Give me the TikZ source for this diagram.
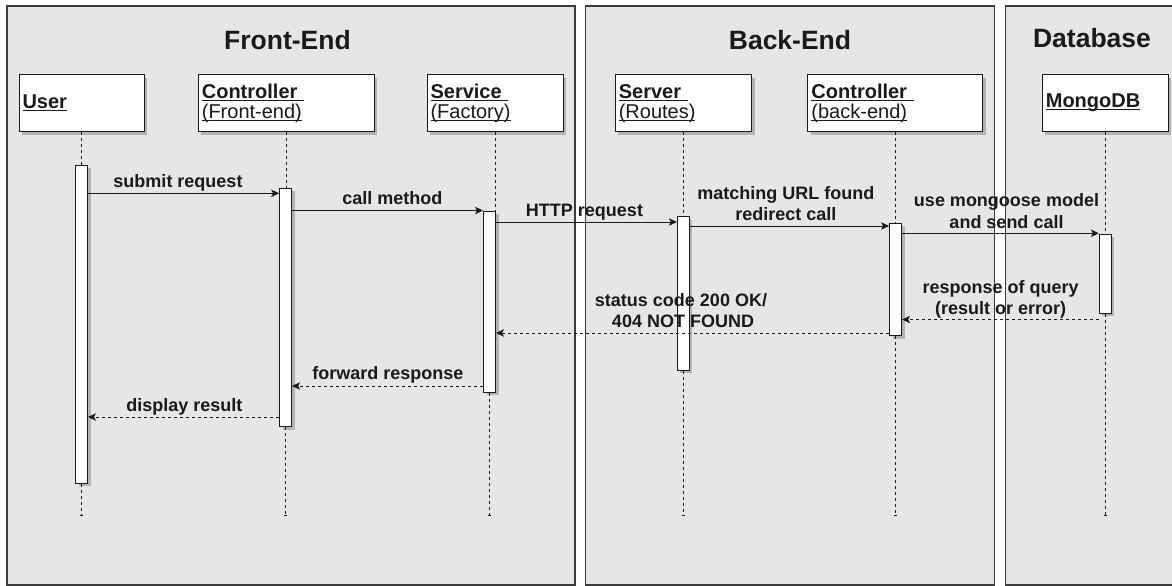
\documentclass[tikz,border=0pt]{standalone}
\usepackage{fontspec}
\setmainfont{Liberation Sans}
\usetikzlibrary{arrows.meta,shadows}

\definecolor{lanefill}{HTML}{E6E6E6}
\definecolor{laneedge}{HTML}{3C3C3C}
\definecolor{ink}{HTML}{1A1A1A}

% underline at a fixed distance below the baseline, trailing space included
\newcommand{\ulbox}[1]{\leavevmode\setbox0=\hbox{#1}\rlap{\rule[-2.4pt]{\wd0}{0.9pt}}\box0}

\begin{document}
\begin{tikzpicture}[x=1pt,y=-1pt,
  lane/.style={draw=laneedge, fill=lanefill, line width=1.2pt, inner sep=0pt},
  lanetitle/.style={font=\fontsize{26.5}{30}\selectfont\bfseries, text=ink, anchor=base, inner sep=0pt},
  shade/.style={drop shadow={shadow xshift=3pt, shadow yshift=-3pt, fill=black, opacity=0.22}},
  actor/.style={shade, draw=ink, fill=white, line width=1pt, minimum height=56.8pt,
    inner xsep=3.5pt, inner ysep=0pt, align=left,
    font=\fontsize{20}{20}\selectfont, text=ink},
  activation/.style={shade, draw=ink, fill=white, line width=1pt, minimum width=12pt, inner sep=0pt},
  lifeline/.style={draw=ink, line width=0.9pt, dash pattern=on 3pt off 3pt},
  lifetail/.style={lifeline, -{Bar[width=3pt,line width=0.8pt]}},
  msg/.style={draw=ink, line width=1pt, -{Stealth[length=8pt,width=7.5pt,inset=2pt]}},
  reply/.style={msg, dash pattern=on 3pt off 3pt},
  msglabel/.style={font=\fontsize{18}{18}\selectfont\bfseries, text=ink, anchor=base, inner sep=0pt}
]
\useasboundingbox (0,0) rectangle (1172,586);
\clip (0,0) rectangle (1172,586);

% ---------- swimlanes ----------
\node[lane, minimum width=568pt, minimum height=579pt] (frontlane) at (291,295.5) {};
\node[lane, minimum width=408.6pt, minimum height=579pt] (backlane) at (790,295.5) {};
\node[lane, minimum width=172.6pt, minimum height=579pt] (dblane) at (1092,295.5) {};

\node[lanetitle] (fetitle) at (287.5,50) {Front-End};
\node[lanetitle] (betitle) at (790,50) {Back-End};
\node[lanetitle] (dbtitle) at (1092,48) {Database};

% ---------- participants ----------
\node[actor, text width=118pt] (user) at (81.5,103.1) {\ulbox{\bfseries User}};
\node[actor, text width=168.7pt] (fctrl) at (286.2,103.1) {\ulbox{\bfseries Controller }\\\ulbox{(Front-end)}};
\node[actor, text width=129.3pt] (service) at (495.2,103.1) {\ulbox{\bfseries Service }\\\ulbox{(Factory)}};
\node[actor, text width=129.4pt] (server) at (683.5,103.1) {\ulbox{\bfseries Server }\\\ulbox{(Routes)}};
\node[actor, text width=167.7pt] (bctrl) at (895.3,103.1) {\ulbox{\bfseries Controller }\\\ulbox{(back-end)}};
\node[actor, text width=118.7pt] (mongo) at (1105.2,103.1) {\ulbox{\bfseries MongoDB}};

% ---------- activation bars ----------
\node[activation, minimum height=318pt]   (userbar)    at (81.5,324)    {};
\node[activation, minimum height=238.7pt] (fctrlbar)   at (285.6,307.4) {};
\node[activation, minimum height=181.3pt] (servicebar) at (489.5,301.7) {};
\node[activation, minimum height=153.3pt] (serverbar)  at (683.4,293.4) {};
\node[activation, minimum height=112.4pt] (bctrlbar)   at (895.6,279.5) {};
\node[activation, minimum height=79pt]    (mongobar)   at (1105.4,273.8) {};

% ---------- lifelines ----------
\coordinate (lifeend) at (0,516);
\draw[lifeline] (user.south) -- (user.south |- userbar.north);
\draw[lifeline] (fctrl.south) -- (fctrl.south |- fctrlbar.north);
\draw[lifeline] (service.south) -- (service.south |- servicebar.north);
\draw[lifeline] (server.south) -- (server.south |- serverbar.north);
\draw[lifeline] (bctrl.south) -- (bctrl.south |- bctrlbar.north);
\draw[lifeline] (mongo.south) -- (mongo.south |- mongobar.north);

\draw[lifetail] (userbar.south) -- (userbar.south |- lifeend);
\draw[lifetail] (fctrlbar.south) -- (fctrlbar.south |- lifeend);
\draw[lifetail] (servicebar.south) -- (servicebar.south |- lifeend);
\draw[lifetail] (serverbar.south) -- (serverbar.south |- lifeend);
\draw[lifetail] (bctrlbar.south) -- (bctrlbar.south |- lifeend);
\draw[lifetail] (mongobar.south) -- (mongobar.south |- lifeend);

% ---------- messages ----------
\draw[msg] (userbar.east |- 0,193.3) -- (fctrlbar.west |- 0,193.3);
\node[msglabel] (m1) at (178,187.3) {submit request};

\draw[msg] (fctrlbar.east |- 0,210.5) -- (servicebar.west |- 0,210.5);
\node[msglabel] (m2) at (392.3,204) {call method};

\draw[msg] (servicebar.east |- 0,222) -- (serverbar.west |- 0,222);
\node[msglabel] (m3) at (584.5,216) {HTTP request};

\draw[msg] (serverbar.east |- 0,226) -- (bctrlbar.west |- 0,226);
\node[msglabel] (m4a) at (785.8,199.3) {matching URL found};
\node[msglabel] (m4b) at (785.8,220.7) {redirect call};

\draw[msg] (bctrlbar.east |- 0,233.3) -- (mongobar.west |- 0,233.3);
\node[msglabel] (m5a) at (1006.5,206.7) {use mongoose model};
\node[msglabel] (m5b) at (1006.5,228.3) {and send call};

% ---------- replies ----------
\draw[reply] (mongobar.west |- 0,319.5) -- (bctrlbar.east |- 0,319.5);
\node[msglabel] (r1a) at (1000.7,293.3) {response of query};
\node[msglabel] (r1b) at (1000.7,314) {(result or error)};

\draw[reply] (bctrlbar.west |- 0,333) -- (servicebar.east |- 0,333);
\node[msglabel] (r2a) at (681,306) {status code 200 OK/};
\node[msglabel] (r2b) at (683,327.3) {404 NOT FOUND};

\draw[reply] (servicebar.west |- 0,386) -- (fctrlbar.east |- 0,386);
\node[msglabel] (r3) at (387.8,379.3) {forward response};

\draw[reply] (fctrlbar.west |- 0,417) -- (userbar.east |- 0,417);
\node[msglabel] (r4) at (184.3,411.7) {display result};
\end{tikzpicture}
\end{document}
